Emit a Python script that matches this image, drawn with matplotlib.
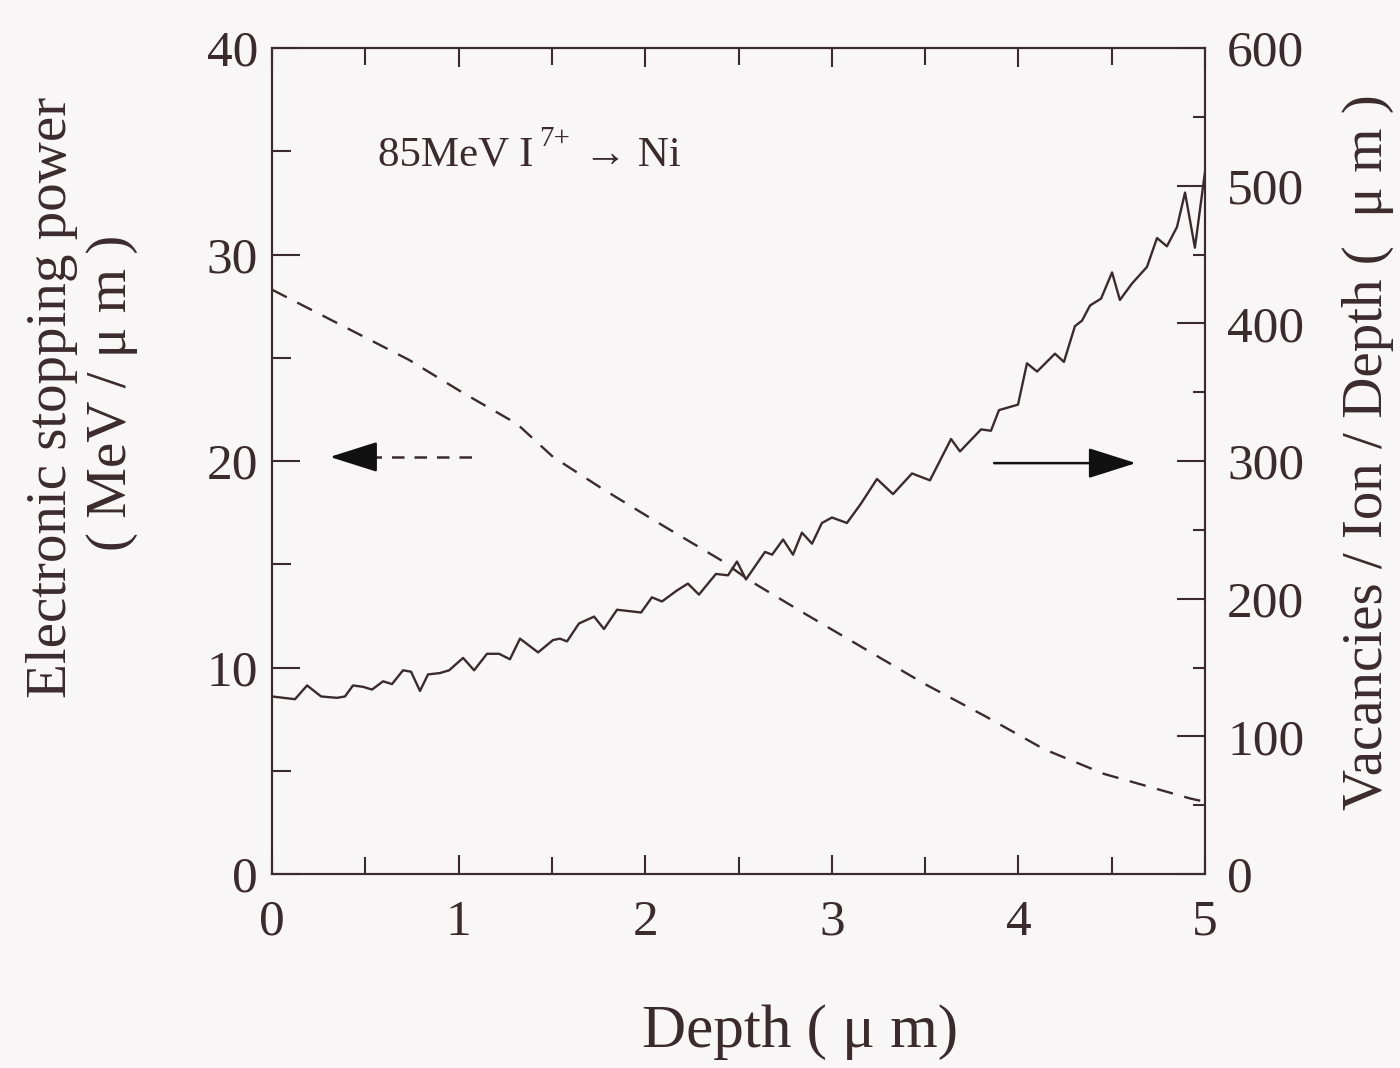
import numpy as np
import matplotlib
matplotlib.use('Agg')
import matplotlib.pyplot as plt
from matplotlib.ticker import MultipleLocator

plt.rcParams['font.family'] = ['Liberation Serif', 'DejaVu Serif']

INK = '#3b2b2e'
W, H = 1400, 1068

# ---- données ----
# pouvoir d'arrêt électronique (axe gauche, MeV/um)
depth_se = [0.0, 0.734, 1.024, 1.313, 1.506, 1.763, 2.053, 2.406, 2.562, 2.857,
            3.178, 3.499, 3.821, 4.137, 4.459, 4.925, 5.0]
stopping = [28.3, 24.9, 23.3, 21.8, 20.2, 18.7, 17.1, 15.2, 14.2, 12.6,
            10.9, 9.2, 7.65, 6.05, 4.85, 3.65, 3.5]

# lacunes / ion / profondeur (axe droit)
depth_vac = [0.000, 0.123, 0.188, 0.263, 0.348, 0.391, 0.434, 0.488, 0.536, 0.595,
             0.643, 0.702, 0.745, 0.793, 0.836, 0.900, 0.949, 1.024, 1.083, 1.152,
             1.217, 1.275, 1.329, 1.426, 1.506, 1.543, 1.581, 1.645, 1.726, 1.779,
             1.849, 1.978, 2.036, 2.090, 2.170, 2.229, 2.288, 2.379, 2.444, 2.492,
             2.540, 2.642, 2.680, 2.739, 2.792, 2.840, 2.894, 2.947, 3.001, 3.081,
             3.156, 3.242, 3.328, 3.430, 3.526, 3.639, 3.687, 3.800, 3.853, 3.896,
             3.998, 4.046, 4.100, 4.196, 4.244, 4.303, 4.341, 4.384, 4.443, 4.502,
             4.544, 4.609, 4.689, 4.743, 4.796, 4.850, 4.893, 4.946, 5.000]
vacancies = [129, 127, 137, 129, 128, 129, 137, 136, 134, 140,
             138, 148, 147, 133, 145, 146, 148, 157, 148, 160,
             160, 156, 171, 161, 170, 171, 169, 182, 187, 178,
             192, 190, 201, 198, 206, 211, 203, 218, 217, 227,
             214, 234, 232, 243, 232, 248, 240, 255, 259, 255,
             269, 287, 276, 291, 286, 316, 307, 323, 322, 337,
             341, 371, 365, 378, 372, 398, 402, 413, 418, 437,
             417, 429, 441, 462, 456, 470, 495, 455, 510]

# ---- figure ----
fig = plt.figure(figsize=(14, 10.68), dpi=100)
fig.patch.set_facecolor('#f8f6f6')
ax = fig.add_axes([0.1943, 0.1816, 0.6664, 0.7734])
ax.set_facecolor('#f8f6f6')
ax2 = ax.twinx()

ax.plot(depth_se, stopping, color=INK, lw=1.7, dashes=(7, 5))
ax2.plot(depth_vac, vacancies, color=INK, lw=1.7)

ax.set_xlim(0, 5)
ax.set_ylim(0, 40)
ax2.set_ylim(0, 600)

ax.xaxis.set_major_locator(MultipleLocator(1))
ax.xaxis.set_minor_locator(MultipleLocator(0.5))
ax.yaxis.set_major_locator(MultipleLocator(10))
ax.yaxis.set_minor_locator(MultipleLocator(5))
ax2.yaxis.set_major_locator(MultipleLocator(100))
ax2.yaxis.set_minor_locator(MultipleLocator(50))

ax.tick_params(axis='x', which='both', direction='in', top=True, labelsize=37,
               colors=INK, pad=18, width=1.5)
ax.tick_params(axis='x', which='major', length=14)
ax.tick_params(axis='x', which='minor', length=12)
ax.tick_params(axis='y', which='both', direction='in', right=False, labelsize=37,
               colors=INK, pad=10, width=1.5)
ax.tick_params(axis='y', which='major', length=20)
ax.tick_params(axis='y', which='minor', length=14)
ax2.tick_params(axis='y', which='both', direction='in', labelsize=37,
                colors=INK, pad=16, width=1.5)
ax2.tick_params(axis='y', which='major', length=20)
ax2.tick_params(axis='y', which='minor', length=9)

for a in (ax, ax2):
    for s in a.spines.values():
        s.set_color(INK)
        s.set_linewidth(1.5)

# titres d'axes placés en pixels
fig.text(800 / W, 1 - 1032 / H, 'Depth ( μ m)', fontsize=44, color=INK,
         ha='center', va='center')
fig.text(52 / W, 1 - 397 / H, 'Electronic stopping power', fontsize=41, color=INK,
         rotation=90, ha='center', va='center')
fig.text(112 / W, 1 - 393 / H, '( MeV / μ m )', fontsize=41, color=INK,
         rotation=90, ha='center', va='center')
fig.text(1368 / W, 1 - 452 / H, 'Vacancies / Ion / Depth (  μ m )', fontsize=41,
         color=INK, rotation=90, ha='center', va='center')

# annotation du faisceau
ax.text(0.57, 34.8, '85MeV I', fontsize=31, color=INK, va='center', ha='left')
ax.text(1.43, 35.6, '7+', fontsize=21, color=INK, va='center', ha='left')
ax.text(1.67, 34.8, '→ Ni', fontsize=31, color=INK, va='center', ha='left')

# flèches indiquant l'axe de chaque courbe
ax.plot([0.52, 1.07], [20.2, 20.2], color=INK, lw=1.8, dashes=(5, 4))
ax.annotate('', xy=(0.31, 20.2), xytext=(0.55, 20.2),
            arrowprops=dict(arrowstyle='-|>,head_length=1.2,head_width=0.38',
                            color='#111111', lw=1.8, mutation_scale=25,
                            shrinkA=0, shrinkB=0))
ax.annotate('', xy=(4.63, 19.9), xytext=(3.87, 19.9),
            arrowprops=dict(arrowstyle='-|>,head_length=1.2,head_width=0.38',
                            color='#111111', lw=1.8, mutation_scale=25,
                            shrinkA=0, shrinkB=0))

fig.savefig('out.png', dpi=100, facecolor=fig.get_facecolor())
